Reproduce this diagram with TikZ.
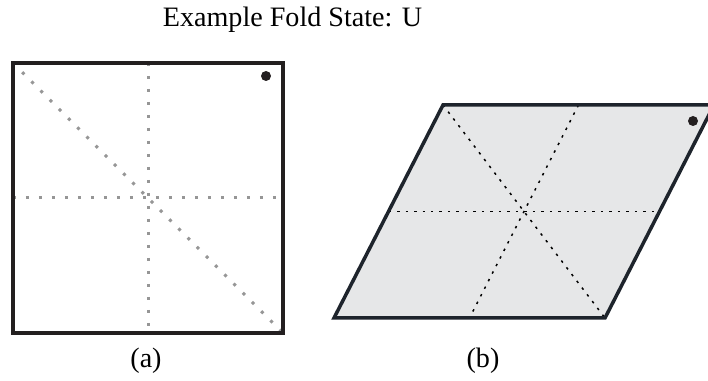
\documentclass[tikz,border=0pt]{standalone}
\usepackage{fontspec}
\setmainfont{Liberation Serif}
\usepackage{tikz}
\usetikzlibrary{calc}
\definecolor{fEdge}{RGB}{35,31,32}
\definecolor{pEdge}{RGB}{30,36,44}
\definecolor{pFill}{RGB}{230,231,232}
\definecolor{fGray}{RGB}{150,150,150}

\begin{document}
\begin{tikzpicture}[
    font=\fontsize{16}{19}\selectfont,
    edge/.style={line width=0.07cm, line join=miter},
    crease/.style={fGray, line width=0.06cm, dash pattern=on 0.06cm off 0.2cm},
    fold/.style={black, line width=0.03cm, dash pattern=on 0.05cm off 0.12cm}
]
  \useasboundingbox (0,0) rectangle (14.16,7.62);

  % (a) the open square with its creases
  \coordinate (aBL) at (0.26,0.96);
  \coordinate (aBR) at (5.66,0.96);
  \coordinate (aTR) at (5.66,6.36);
  \coordinate (aTL) at (0.26,6.36);
  \draw[crease] ($(aTL)!0.5!(aBL)$) -- ($(aTR)!0.5!(aBR)$);
  \draw[crease] ($(aTL)!0.5!(aTR)$) -- ($(aBL)!0.5!(aBR)$);
  \draw[crease] (aTL) -- (aBR);
  \draw[edge, fEdge] (aBL) -- (aBR) -- (aTR) -- (aTL) -- cycle;
  \fill[fEdge] (5.32,6.10) circle (0.1);

  % (b) the same square after the fold
  \coordinate (bBL) at (6.68,1.26);
  \coordinate (bBR) at (12.10,1.26);
  \coordinate (bTR) at (14.28,5.52);
  \coordinate (bTL) at (8.86,5.52);
  \fill[pFill] (bBL) -- (bBR) -- (bTR) -- (bTL) -- cycle;
  \draw[fold] ($(bTL)!0.5!(bBL)$) -- ($(bTR)!0.5!(bBR)$);
  \draw[fold] ($(bTL)!0.5!(bTR)$) -- ($(bBL)!0.5!(bBR)$);
  \draw[fold] (bTL) -- (bBR);
  \draw[edge, pEdge] (bBL) -- (bBR) -- (bTR) -- (bTL) -- cycle;
  \fill[fEdge] (13.86,5.20) circle (0.1);

  \node[anchor=base] (title) at (5.85,7.08) {Example Fold State: U};
  \node[anchor=base] (capA) at (2.92,0.26) {(a)};
  \node[anchor=base] (capB) at (9.66,0.26) {(b)};
\end{tikzpicture}
\end{document}
